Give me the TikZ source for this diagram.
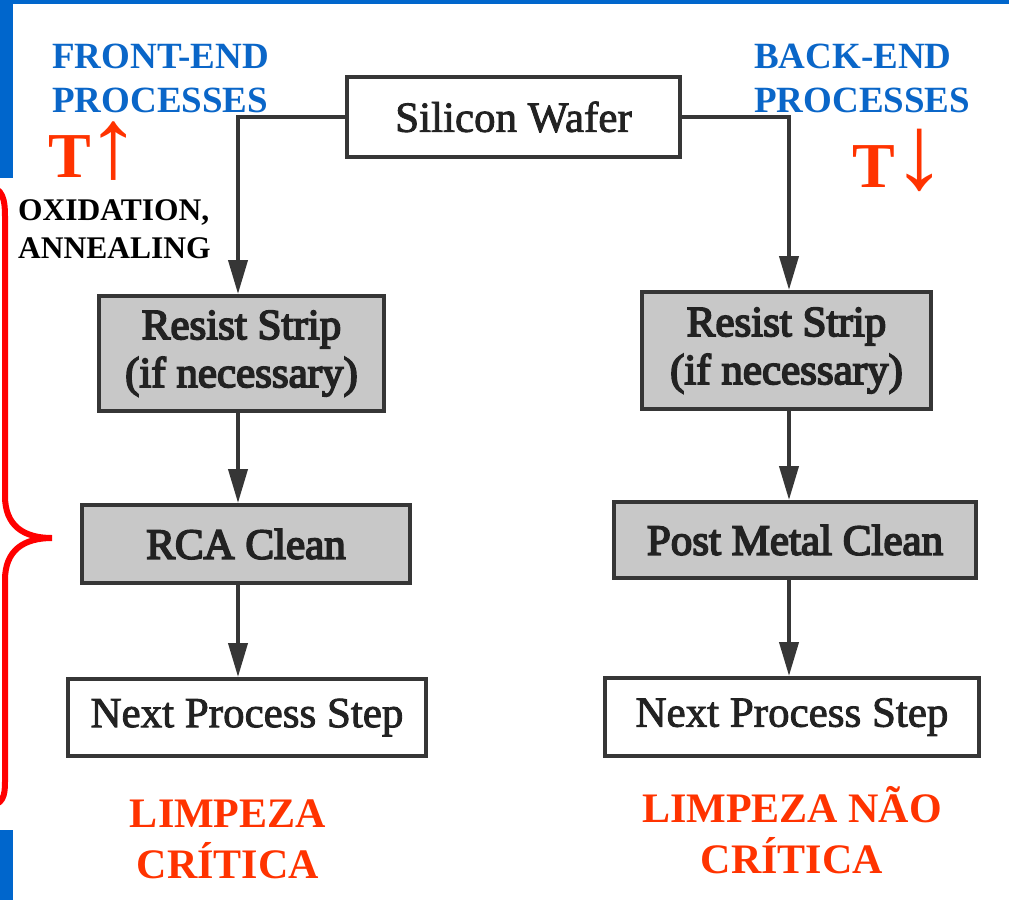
\documentclass[tikz,border=0pt]{standalone}
\usepackage{fontspec}
\usepackage{graphicx}
\setmainfont{Liberation Serif}
\newfontfamily\heavyserif[FakeBold=4]{Liberation Serif}
\newfontfamily\midserif[FakeBold=2]{Liberation Serif}
\usetikzlibrary{arrows.meta}
\definecolor{frameblue}{HTML}{0066CC}
\definecolor{headblue}{HTML}{0A66C8}
\definecolor{hotred}{HTML}{FF3300}
\definecolor{bracered}{HTML}{FF0000}
\definecolor{boxline}{HTML}{363636}
\definecolor{shade}{HTML}{C8C8C8}
\definecolor{ink}{HTML}{222222}
\newcommand{\uparr}{\kern-4pt\raisebox{0pt}{\scalebox{1.7}[1.55]{↑}}}
\newcommand{\downarr}{\kern-2pt\raisebox{-1pt}{\scalebox{1.7}[1.65]{↓}}}
\tikzset{
  plainbox/.style={draw=boxline, line width=4pt, fill=white, inner sep=0pt,
    text=ink, font=\midserif\fontsize{43}{50}\selectfont},
  shadebox/.style={plainbox, fill=shade, font=\heavyserif\fontsize{43}{48}\selectfont, align=center},
  flow/.style={draw=boxline, line width=4pt, -{Triangle[length=34pt,width=19pt]}},
  head/.style={inner sep=0pt, text=headblue, font=\bfseries\fontsize{37}{44}\selectfont},
  temp/.style={inner sep=0pt, text=hotred, font=\bfseries\fontsize{64}{70}\selectfont},
  proc/.style={inner sep=0pt, text=black, font=\bfseries\fontsize{31.5}{38}\selectfont},
  verdict/.style={inner sep=0pt, text=hotred, font=\bfseries\fontsize{42}{50}\selectfont},
}
\begin{document}
\begin{tikzpicture}[x=1pt,y=-1pt]
\useasboundingbox (0,0) rectangle (1009,900);
\fill[white] (0,0) rectangle (1009,900);
% frame bars
\fill[frameblue] (0,0) rectangle (1009,3.5);
\fill[frameblue] (0,0) rectangle (13,178);
\fill[frameblue] (0,830) rectangle (13,900);
% brace
\draw[bracered, line width=6pt, line cap=round]
  (-12,186) .. controls (3,188) and (5,200) .. (5,216)
  -- (5,496) .. controls (5,526) and (24,538) .. (52,538)
  .. controls (24,538) and (5,550) .. (5,580)
  -- (5,782) .. controls (5,796) and (3,805) .. (-12,806);
% boxes
\node[plainbox, minimum width=333pt, minimum height=80pt] (wafer) at (513.5,117) {Silicon Wafer};
\node[shadebox, minimum width=285pt, minimum height=115pt] (lres) at (241.5,353.5) {Resist Strip\\(if necessary)};
\node[shadebox, minimum width=328pt, minimum height=78pt] (lrca) at (246,544) {RCA Clean};
\node[plainbox, minimum width=358pt, minimum height=77pt] (lnext) at (247,717.5) {Next Process Step};
\node[shadebox, minimum width=289pt, minimum height=117pt] (rres) at (786.5,350.5) {Resist Strip\\(if necessary)};
\node[shadebox, minimum width=362pt, minimum height=76pt] (rpost) at (795,540) {Post Metal Clean};
\node[plainbox, minimum width=374pt, minimum height=78pt] (rnext) at (792,717) {Next Process Step};
% column coordinates
\coordinate (lx) at (238,0);
\coordinate (rx) at (789,0);
% connectors
\draw[flow] (wafer.west) -| (lres.north -| lx);
\draw[flow] (wafer.east) -| (rres.north -| rx);
\draw[flow] (lres.south -| lx) -- (lrca.north -| lx);
\draw[flow] (lrca.south -| lx) -- (lnext.north -| lx);
\draw[flow] (rres.south -| rx) -- (rpost.north -| rx);
\draw[flow] (rpost.south -| rx) -- (rnext.north -| rx);
% labels
\node[head, anchor=base west] (fe1) at (52,68) {FRONT-END};
\node[head, anchor=base west] (fe2) at (52,112) {PROCESSES};
\node[head, anchor=base west] (be1) at (754,68) {BACK-END};
\node[head, anchor=base west] (be2) at (754,112) {PROCESSES};
\node[temp, anchor=base west] (tup) at (48,177) {T\uparr};
\node[temp, anchor=base west] (tdown) at (852,187) {T\downarr};
\node[proc, anchor=base west] (ox1) at (18,220) {OXIDATION,};
\node[proc, anchor=base west] (ox2) at (18,258) {ANNEALING};
\node[verdict, anchor=base] (lc1) at (228,827) {LIMPEZA};
\node[verdict, anchor=base] (lc2) at (228,878) {CRÍTICA};
\node[verdict, anchor=base] (rc1) at (792,822) {LIMPEZA NÃO};
\node[verdict, anchor=base] (rc2) at (792,873) {CRÍTICA};
\end{tikzpicture}
\end{document}
